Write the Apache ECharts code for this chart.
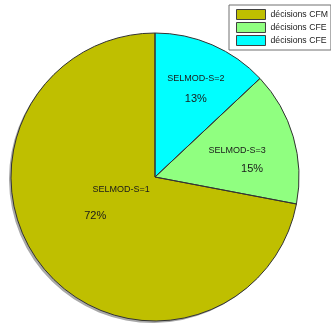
<!DOCTYPE html>
<html>
<head>
<meta charset="utf-8">
<script src="https://cdn.jsdelivr.net/npm/echarts@6/dist/echarts.min.js"></script>
<style>
  html, body { margin: 0; padding: 0; background: #ffffff; }
  #chart { width: 331px; height: 325px; }
</style>
</head>
<body>
<div id="chart"></div>
<script>
// Slices, listed clockwise from 12 o'clock
const sliceNames = ['SELMOD-S=2', 'SELMOD-S=3', 'SELMOD-S=1'];
const sliceValues = [13, 15, 72];
const sliceColors = ['#00ffff', '#90ff80', '#bfbf00'];

// Legend entries (top to bottom) and the text shown for each
const legendKeys = ['SELMOD-S=1', 'SELMOD-S=3', 'SELMOD-S=2'];
const legendTexts = ['décisions CFM', 'décisions CFE', 'décisions CFE'];

// Small nudges of the in-slice labels away from the default inside spot
const nameNudge = [[11, -30], [10, -6], [24, -35]];
const pctNudge = [[11, -9], [25, 13], [-2, -9]];

const FONT = '"Liberation Sans", Arial, sans-serif';
const CENTER = [155, 177];
const RADIUS = 144;

const baseSeries = {
  type: 'pie',
  center: CENTER,
  radius: RADIUS,
  startAngle: 90,
  clockwise: true,
  silent: true,
  emphasis: { disabled: true },
  labelLine: { show: false }
};

const chart = echarts.init(document.getElementById('chart'), null, { renderer: 'canvas' });

chart.setOption({
  animation: false,
  backgroundColor: '#ffffff',
  legend: {
    data: legendKeys,
    orient: 'vertical',
    left: 229,
    top: 5,
    padding: [4, 3, 4, 7],
    itemWidth: 29,
    itemHeight: 10,
    itemGap: 2,
    icon: 'rect',
    borderColor: '#707070',
    borderWidth: 1,
    backgroundColor: '#ffffff',
    selectedMode: false,
    itemStyle: {
      borderColor: '#404040',
      borderWidth: 1,
      shadowBlur: 0,
      shadowOffsetX: 0,
      shadowOffsetY: 0,
      shadowColor: 'transparent'
    },
    formatter: function (name) {
      return legendTexts[legendKeys.indexOf(name)];
    },
    textStyle: { fontFamily: FONT, fontSize: 8.7, color: '#1a1a1a' }
  },
  series: [
    // filled slices with a soft grey drop shadow
    Object.assign({}, baseSeries, {
      data: sliceNames.map((n, i) => ({
        name: n,
        value: sliceValues[i],
        itemStyle: { color: sliceColors[i] }
      })),
      itemStyle: {
        borderWidth: 0,
        shadowColor: '#a8a8a8',
        shadowBlur: 0,
        shadowOffsetX: -2,
        shadowOffsetY: 2
      },
      label: { show: false }
    }),
    // slice outlines and category names
    Object.assign({}, baseSeries, {
      data: sliceNames.map((n, i) => ({ name: n, value: sliceValues[i] })),
      itemStyle: { color: 'transparent', borderColor: '#333333', borderWidth: 1 },
      label: {
        show: true,
        position: 'inside',
        formatter: '{b}',
        fontFamily: FONT,
        fontSize: 9,
        color: '#1a1a1a'
      },
      labelLayout: function (p) {
        const d = nameNudge[p.dataIndex];
        return { dx: d[0], dy: d[1] };
      }
    }),
    // percentage labels
    Object.assign({}, baseSeries, {
      data: sliceNames.map((n, i) => ({ name: n, value: sliceValues[i] })),
      itemStyle: { color: 'transparent', borderWidth: 0 },
      label: {
        show: true,
        position: 'inside',
        formatter: function (p) { return p.value + '%'; },
        fontFamily: FONT,
        fontSize: 11,
        color: '#1a1a1a'
      },
      labelLayout: function (p) {
        const d = pctNudge[p.dataIndex];
        return { dx: d[0], dy: d[1] };
      }
    })
  ]
});
</script>
</body>
</html>
